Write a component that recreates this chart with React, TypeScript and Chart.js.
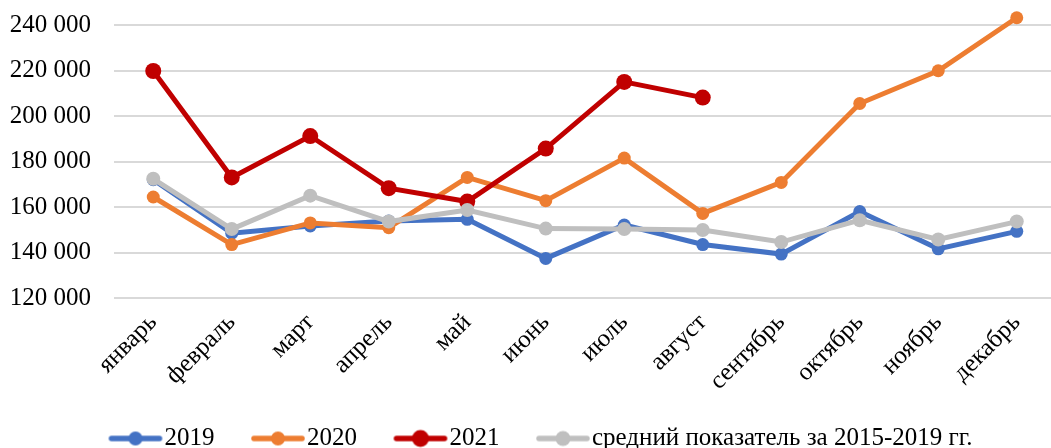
import React, { useEffect, useRef } from "react";
import { Chart, registerables } from "chart.js";

Chart.register(...registerables);

const months = ["январь", "февраль", "март", "апрель", "май", "июнь", "июль", "август", "сентябрь", "октябрь", "ноябрь", "декабрь"];
const series2019 = [172000, 148500, 151700, 153800, 154600, 137400, 152100, 143500, 139300, 158000, 141600, 149300];
const series2020 = [164400, 143500, 153000, 150900, 173000, 162800, 181500, 157200, 170800, 205500, 219900, 243200];
const series2021 = [219800, 173000, 191200, 168300, 162400, 185700, 215000, 208100];
const seriesAvg = [172400, 150300, 165000, 153600, 158700, 150500, 150300, 149900, 144600, 154200, 145700, 153600];
const yTicks = [120000, 140000, 160000, 180000, 200000, 220000, 240000];
const Y_MIN = 120000;
const Y_MAX = 251000;

const FONT = "'Liberation Serif', serif";
const FS = 25;
const LEGEND_START = 109;

function legendImage(color: string, radius: number) {
  const c = document.createElement("canvas");
  c.width = 106;
  c.height = 20;
  const ctx = c.getContext("2d")!;
  ctx.strokeStyle = color;
  ctx.lineWidth = 5.5;
  ctx.lineCap = "round";
  ctx.beginPath();
  ctx.moveTo(34, 10);
  ctx.lineTo(82, 10);
  ctx.stroke();
  ctx.fillStyle = color;
  ctx.beginPath();
  ctx.arc(58, 10, radius, 0, Math.PI * 2);
  ctx.fill();
  return c;
}

const fmt = (v: number) => String(v).replace(/\B(?=(\d{3})+(?!\d))/g, " ");

const shiftLegend = {
  id: "shiftLegend",
  afterLayout(chart: any) {
    const l = chart.legend;
    if (!l || !l.lineWidths) return;
    const pad = l.options.labels.padding;
    const x0 = (l.left + pad + l.right - l.lineWidths[0]) / 2;
    const dx = LEGEND_START - x0;
    l.left += dx;
    l.right += dx;
  },
};

export default function App() {
  const ref = useRef<HTMLCanvasElement>(null);
  useEffect(() => {
    if (!ref.current) return;
    const defs = [
      { label: "2019", data: series2019, color: "#4472C4", r: 6.5, w: 5, order: 3 },
      { label: "2020", data: series2020, color: "#ED7D31", r: 6.5, w: 5, order: 2 },
      { label: "2021", data: series2021, color: "#C00000", r: 8, w: 5, order: 1 },
      { label: "средний показатель за 2015-2019 гг.", data: seriesAvg, color: "#BFBFBF", r: 7, w: 5, order: 0 },
    ];
    const imgs = defs.map((d) => legendImage(d.color, d.r + 0.5));
    const chart = new Chart(ref.current, {
      type: "line",
      plugins: [shiftLegend],
      data: {
        labels: months,
        datasets: defs.map((d) => ({
          label: d.label,
          data: d.data,
          borderColor: d.color,
          backgroundColor: d.color,
          pointBackgroundColor: d.color,
          pointBorderColor: d.color,
          pointRadius: d.r,
          pointBorderWidth: 0,
          borderWidth: d.w,
          tension: 0,
          order: d.order,
          clip: false as any,
        })),
      },
      options: {
        animation: false,
        responsive: true,
        maintainAspectRatio: false,
        layout: { autoPadding: false, padding: { top: 0, right: 0, left: 0, bottom: -13 } },
        plugins: {
          tooltip: { enabled: false },
          legend: {
            position: "bottom",
            labels: {
              usePointStyle: true,
              pointStyleWidth: 43,
              boxHeight: 20,
              padding: 37,
              color: "#000",
              font: { family: FONT, size: FS },
              sort: (a: any, b: any) => a.datasetIndex - b.datasetIndex,
              generateLabels: (ch: any) => {
                const items = Chart.defaults.plugins.legend.labels.generateLabels(ch);
                items.forEach((it: any, i: number) => {
                  it.pointStyle = imgs[it.datasetIndex ?? i];
                });
                return items;
              },
            },
          },
        },
        scales: {
          x: {
            offset: true,
            grid: { display: false, offset: true },
            border: { display: false },
            afterFit: (s: any) => {
              s.height = 91;
            },
            ticks: {
              autoSkip: false,
              maxRotation: 45,
              minRotation: 45,
              color: "#000",
              font: { family: FONT, size: FS },
              padding: 2,
            },
          },
          y: {
            min: Y_MIN,
            max: Y_MAX,
            afterFit: (s: any) => {
              s.width = 114;
            },
            afterBuildTicks: (s: any) => {
              s.ticks = yTicks.map((v) => ({ value: v }));
            },
            grid: { color: "#D9D9D9", lineWidth: 2, drawTicks: true, tickLength: 38, tickColor: "rgba(0,0,0,0)" },
            border: { display: false },
            ticks: {
              padding: -15,
              color: "#000",
              font: { family: FONT, size: FS },
              callback: (v: any) => fmt(Number(v)),
            },
          },
        },
      },
    });
    return () => chart.destroy();
  }, []);
  return (
    <div style={{ position: "fixed", left: 0, top: 0, width: 1056, height: 448 }}>
      <canvas ref={ref} />
    </div>
  );
}
